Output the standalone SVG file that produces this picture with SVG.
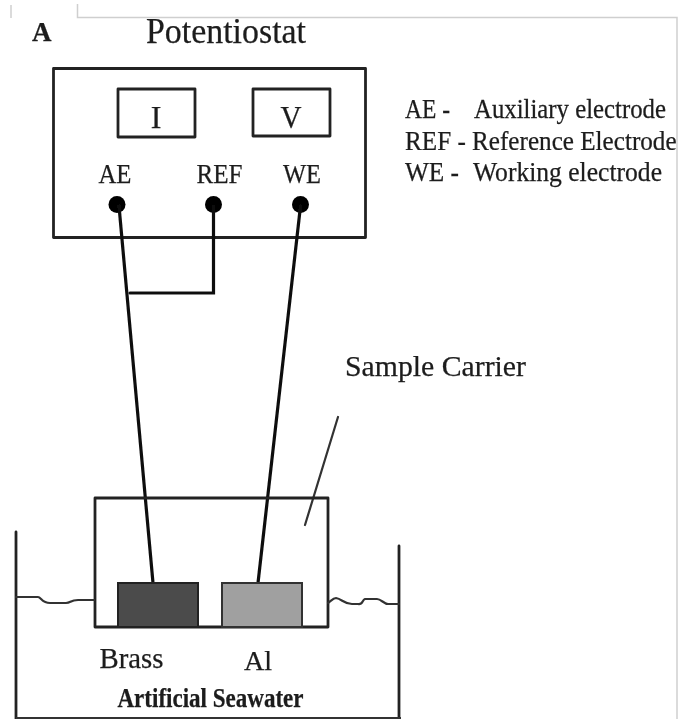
<svg xmlns="http://www.w3.org/2000/svg" width="679" height="719" viewBox="0 0 679 719">
<style>
text{font-family:"Liberation Serif","Times New Roman",serif;fill:#1c1c1c;stroke:#1c1c1c;stroke-width:.25}
.l{fill:none;stroke:#222;stroke-width:2.800;stroke-linecap:round;stroke-linejoin:round}
.w{fill:none;stroke:#111;stroke-width:3.200;stroke-linecap:round}
.s{fill:none;stroke:#333;stroke-width:2.200;stroke-linecap:round;stroke-linejoin:round}
.f{fill:none;stroke:#cfcfcf;stroke-width:1.500}
.b{font-size:27px}
</style>
<defs><filter id="soft" x="0" y="0" width="679" height="719" filterUnits="userSpaceOnUse"><feGaussianBlur stdDeviation="0.600"/></filter></defs>
<rect width="679" height="719" fill="#fff"/>
<g filter="url(#soft)">
<g id="frame">
<path class="f" d="M11 5V18M77.500 4V17.500H677V719"/>
</g>
<text x="32" y="41" font-size="27" font-weight="bold">A</text>
<g id="potentiostat">
<text x="146" y="43" font-size="35" textLength="160" lengthAdjust="spacingAndGlyphs">Potentiostat</text>
<rect class="l" x="53.500" y="68.500" width="312" height="169"/>
</g>
<g id="display-i"><rect class="l" x="118" y="89" width="77" height="48"/><text x="156" y="128" text-anchor="middle" font-size="32">I</text></g>
<g id="display-v"><rect class="l" x="253" y="89" width="77" height="47"/><text x="291" y="128" text-anchor="middle" font-size="32" textLength="21" lengthAdjust="spacingAndGlyphs">V</text></g>
<g id="terminal-ae"><text class="b" x="115" y="183" text-anchor="middle" textLength="33" lengthAdjust="spacingAndGlyphs">AE</text><circle cx="117" cy="204.500" r="8.500" fill="#000"/></g>
<g id="terminal-ref"><text class="b" x="219.500" y="183" text-anchor="middle" textLength="46" lengthAdjust="spacingAndGlyphs">REF</text><circle cx="213.500" cy="204.500" r="8.500" fill="#000"/></g>
<g id="terminal-we"><text class="b" x="302" y="183" text-anchor="middle" textLength="38" lengthAdjust="spacingAndGlyphs">WE</text><circle cx="300.500" cy="204.500" r="8.500" fill="#000"/></g>
<g id="legend">
<text class="b" x="405" y="118" textLength="45" lengthAdjust="spacingAndGlyphs">AE -</text>
<text class="b" transform="translate(474 118) scale(.918 1)">Auxiliary electrode</text>
<text class="b" transform="translate(405 149.500) scale(.932 1)">REF - Reference Electrode</text>
<text class="b" x="405" y="181" textLength="54" lengthAdjust="spacingAndGlyphs">WE -</text>
<text class="b" x="473" y="181" textLength="189" lengthAdjust="spacingAndGlyphs">Working electrode</text>
</g>
<g id="connectors">
<path class="w" d="M119 206L153 583"/>
<path class="w" d="M213.500 206V293H130"/>
<path class="w" d="M300.500 206L258 583"/>
<path class="s" d="M338 417L305 525"/>
</g>
<g id="sample-carrier">
<text x="345" y="376" font-size="29" textLength="181" lengthAdjust="spacingAndGlyphs">Sample Carrier</text>
<rect class="l" x="95" y="498" width="233" height="129"/>
</g>
<g id="brass">
<rect x="118" y="583" width="80" height="44" fill="#4b4b4b" stroke="#222" stroke-width="2"/>
<text x="131.500" y="668" text-anchor="middle" font-size="30" textLength="64" lengthAdjust="spacingAndGlyphs">Brass</text>
</g>
<g id="al">
<rect x="222" y="583" width="80" height="44" fill="#a0a0a0" stroke="#333" stroke-width="2"/>
<text x="258" y="670" text-anchor="middle" font-size="28" textLength="28" lengthAdjust="spacingAndGlyphs">Al</text>
</g>
<g id="beaker">
<path class="l" d="M16 532V719M399 546V719"/>
<path class="s" d="M16 597H38C41 597 42 603 50 603H66C71 603 70 600 78 600H94"/>
<path class="s" d="M328 603C331 601 333 598 336 598C342 599 344 604 352 604H358C363 605 362 600 365 599H377C381 599 384 604 388 604H399"/>
<path d="M16 718H401" stroke="#333" stroke-width="2"/>
<text x="210.500" y="707" text-anchor="middle" font-size="27" font-weight="bold" textLength="186" lengthAdjust="spacingAndGlyphs">Artificial Seawater</text>
</g>
</g>
</svg>
